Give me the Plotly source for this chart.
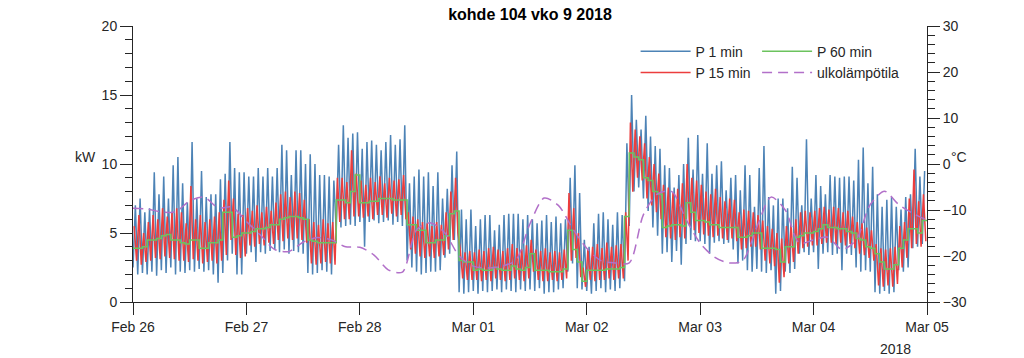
import numpy as np
import pandas as pd
import plotly.graph_objects as go

# ---------------- data ----------------
start = pd.Timestamp("2018-02-26 00:00")
day_ticks = ["2018-02-26", "2018-02-27", "2018-02-28", "2018-03-01",
             "2018-03-02", "2018-03-03", "2018-03-04", "2018-03-05"]
day_labels = ["Feb 26", "Feb 27", "Feb 28", "Mar 01", "Mar 02", "Mar 03", "Mar 04", "Mar 05"]

# hourly mean power (P 60 min), kW, one list per day
p60_days = [
    [3.9,3.9,4.0,4.5,4.5,4.6,4.8,4.9,4.5,4.5,4.3,4.2,4.5,4.5,3.9,3.9,4.3,4.3,4.5,6.5,6.5,4.7,4.8,5.0],
    [5.0,5.1,5.3,5.3,5.4,5.6,5.6,6.0,6.1,6.2,6.2,6.1,6.0,4.5,4.4,4.3,4.3,4.3,4.3,7.4,7.4,7.2,8.0,9.2],
    [7.2,7.2,7.3,7.3,7.5,7.5,7.5,7.4,7.4,7.4,5.6,5.6,5.2,5.2,4.3,4.3,4.5,4.5,4.8,6.4,6.6,3.0,2.9,2.9],
    [2.3,2.4,2.3,2.3,2.5,2.4,2.3,2.3,2.6,2.4,2.3,2.5,3.5,2.3,2.3,2.3,2.2,2.2,2.2,2.4,5.2,3.8,2.9,1.5],
    [2.3,2.3,2.3,2.3,2.4,2.4,2.4,2.5,6.2,10.8,10.5,10.3,9.0,8.8,8.0,7.8,5.4,5.5,5.6,5.6,5.5,7.2,6.5,5.9],
    [5.9,5.8,5.6,5.6,5.4,5.4,5.4,5.4,4.7,4.7,4.8,5.0,5.0,3.9,3.9,3.9,3.8,2.9,4.0,4.0,4.7,4.8,5.0,5.0],
    [5.1,5.3,5.6,5.4,5.4,5.3,5.3,5.1,5.0,4.6,4.5,4.0,3.9,3.5,2.9,2.4,2.4,2.7,3.9,4.5,5.3,5.3,5.0,5.9],
]
# hourly peak of the 1-minute power (P 1 min), kW
p1_max_days = [
    [7.0,7.5,6.5,6.8,9.4,7.8,9.1,7.5,9.9,10.5,8.6,7.2,11.6,7.5,9.5,7.6,7.8,7.8,8.9,9.3,11.6,9.7,9.4,9.4],
    [9.1,9.1,9.7,9.1,9.7,9.1,9.7,11.4,11.0,9.2,11.0,11.0,10.0,10.7,10.0,9.2,9.2,9.1,8.8,11.4,12.8,11.9,12.2,12.3],
    [11.1,11.6,11.7,11.4,11.0,11.6,12.1,11.4,11.8,12.8,8.6,9.1,9.6,9.1,9.4,8.4,9.4,7.5,8.2,9.9,10.9,6.7,6.0,6.7],
    [5.5,6.0,6.3,6.3,5.2,5.6,6.3,6.4,6.4,6.4,6.0,6.3,6.0,5.7,5.9,6.3,5.8,6.2,5.7,6.0,9.0,9.9,7.9,4.5],
    [4.0,5.7,6.4,6.5,6.0,5.6,6.5,6.3,11.5,15.0,13.2,12.5,13.5,12.0,11.3,11.1,9.9,9.7,8.3,9.2,10.0,11.9,9.6,12.1],
    [9.3,11.5,9.3,9.9,10.2,8.1,9.0,9.2,8.1,9.9,9.2,6.9,9.7,11.3,7.6,7.0,7.5,7.5,6.8,9.8,9.0,7.0,11.8,7.5],
    [9.2,8.4,7.8,9.2,9.1,9.0,9.1,9.1,8.8,10.3,11.2,8.6,9.8,7.8,6.9,7.4,7.6,6.9,6.7,7.6,7.8,11.1,9.1,9.5],
]
# hourly low of the 1-minute power (P 1 min), kW
p1_min_days = [
    [2.5,2.0,2.1,2.0,2.2,1.9,2.3,2.1,2.5,2.0,2.2,2.1,2.3,2.2,2.4,2.2,2.3,2.0,1.4,2.1,3.0,3.5,2.0,2.0],
    [3.5,3.6,2.9,3.6,3.5,3.7,3.8,3.6,3.8,3.5,3.7,3.6,3.5,2.1,2.0,2.1,2.3,2.2,2.0,5.2,5.4,5.5,5.6,5.5],
    [5.8,4.0,5.8,5.9,5.7,5.8,5.9,5.6,5.8,5.5,3.0,2.5,2.2,2.0,2.1,2.2,2.2,2.3,3.2,3.5,4.5,0.7,0.6,0.7],
    [0.8,0.6,0.8,0.7,0.8,0.9,0.7,0.9,0.8,0.7,0.9,0.8,0.9,0.8,1.0,0.6,0.7,0.7,0.9,1.0,2.2,2.8,1.0,0.9],
    [0.8,0.6,0.8,1.0,0.7,0.9,0.8,1.0,1.5,5.5,8.0,8.3,7.5,6.6,5.4,4.8,3.5,3.6,2.9,3.7,2.7,4.2,4.5,4.4],
    [4.4,4.2,3.5,4.3,4.4,4.2,4.3,3.8,2.8,3.0,2.3,2.2,2.4,2.2,2.1,2.3,0.6,0.8,2.2,2.1,2.4,3.5,3.6,3.4],
    [3.6,2.4,3.5,3.6,3.4,3.5,2.3,3.5,3.4,2.5,2.2,2.3,2.2,0.7,0.6,0.8,0.6,0.7,2.3,2.2,2.5,3.9,4.0,4.2],
]
# hourly high / low of the 15-minute power (P 15 min), kW
p15_hi_days = [
    [5.5,6.3,5.0,5.8,6.3,6.0,6.8,6.2,6.5,6.8,6.5,5.7,8.4,6.0,6.3,5.8,6.0,6.2,6.5,7.4,8.8,7.5,6.4,6.3],
    [6.8,6.6,7.0,6.5,6.9,6.6,7.2,7.8,8.0,7.6,8.0,7.9,7.4,6.0,5.8,5.6,6.0,5.7,5.8,9.0,9.0,8.7,11.0,9.3],
    [8.8,8.5,9.0,8.7,9.1,8.6,9.0,8.8,8.9,9.2,6.5,6.2,6.0,5.8,5.7,5.5,5.8,5.6,6.5,8.0,9.0,3.8,3.6,3.7],
    [3.6,3.8,3.7,3.9,4.0,3.8,3.7,3.9,4.2,3.9,3.8,4.1,4.5,3.8,3.7,3.9,3.6,3.7,3.6,3.8,7.9,6.8,5.0,2.5],
    [3.8,4.0,4.2,3.9,4.3,4.0,4.1,4.2,6.5,13.0,12.5,12.0,11.5,10.5,10.0,9.3,8.5,8.3,7.9,8.2,8.6,10.0,9.0,8.8],
    [8.5,8.0,7.8,8.2,7.6,7.3,7.5,7.4,6.5,6.7,6.6,6.5,6.3,5.9,5.5,5.3,5.0,4.6,5.5,5.6,6.0,6.5,6.6,6.5],
    [6.6,6.8,6.9,6.7,6.9,6.8,6.5,6.6,6.2,5.8,5.7,5.4,5.2,4.2,3.9,3.8,3.9,4.0,5.5,5.8,7.5,9.6,7.3,7.8],
]
p15_lo_days = [
    [3.0,2.7,2.9,3.0,3.2,3.1,3.3,3.2,3.1,3.0,3.0,2.9,3.1,3.0,2.8,2.9,3.0,2.8,3.0,3.4,4.5,3.4,3.2,3.3],
    [4.1,4.0,4.2,4.1,4.3,4.2,4.5,4.4,4.6,4.5,4.6,4.5,4.3,2.8,2.7,2.8,2.9,2.8,2.7,5.8,6.0,6.0,6.2,6.2],
    [6.1,6.2,6.0,6.3,6.3,6.1,6.4,6.2,6.3,6.0,3.8,3.5,3.3,3.2,3.3,3.2,3.3,3.4,3.8,4.5,5.0,1.7,1.6,1.6],
    [1.6,1.5,1.6,1.5,1.7,1.6,1.5,1.6,1.7,1.6,1.5,1.7,2.2,1.6,1.5,1.5,1.6,1.5,1.6,1.7,3.0,3.2,1.8,1.1],
    [1.6,1.5,1.6,1.6,1.7,1.6,1.7,1.7,3.0,8.0,9.0,8.8,7.5,7.0,6.5,6.0,4.7,4.6,4.5,4.7,4.6,5.5,5.2,5.0],
    [4.9,4.8,4.7,4.8,4.6,4.5,4.6,4.4,3.8,3.9,4.0,4.0,3.8,3.0,2.8,2.6,1.4,1.8,2.8,2.9,3.5,3.9,4.0,4.1],
    [4.1,4.2,4.3,4.3,4.2,4.3,4.1,4.2,3.9,3.5,3.4,3.2,3.0,1.2,1.1,1.2,1.1,1.3,2.5,3.2,3.9,4.2,4.0,4.4],
]
# outdoor temperature (ulkolämpötila), deg C, every 3 hours from Feb 26 00:00 to Mar 05 00:00
temp_3h = [
    -9.6, -9.8, -10.4, -10.4, -8.0, -7.2, -9.5, -9.4,
    -12.5, -15.5, -18.6, -19.0, -17.0, -16.0, -16.5, -18.0,
    -18.1, -19.8, -23.0, -23.5, -14.3, -12.8, -15.0, -20.0,
    -22.2, -22.6, -22.2, -20.9, -13.0, -7.4, -9.0, -14.0,
    -18.3, -21.0, -21.5, -21.5, -11.0, -6.5, -6.0, -12.0,
    -17.2, -20.2, -21.5, -21.0, -13.7, -7.2, -10.0, -17.2,
    -16.5, -15.9, -18.6, -16.5, -8.8, -5.9, -8.8, -10.7,
    -12.2,
]

# ---------------- assemble ----------------
def flat(days):
    return [v for d in days for v in d]

p60 = flat(p60_days)
p1_max = flat(p1_max_days)
p1_min = flat(p1_min_days)
p15_hi = flat(p15_hi_days)
p15_lo = flat(p15_lo_days)
n = len(p60)

hours = start + pd.to_timedelta(np.arange(n), unit="h")
half = pd.Timedelta(minutes=30)
quarter = pd.Timedelta(minutes=15)

x1, y1 = [], []
for t, lo, hi in zip(hours, p1_min, p1_max):
    x1 += [t, t + half]
    y1 += [lo, hi]

x15, y15 = [], []
for t, hi, lo in zip(hours, p15_hi, p15_lo):
    x15 += [t + quarter, t + 3 * quarter]
    y15 += [hi, lo]

x60 = list(hours) + [start + pd.Timedelta(hours=n)]
y60 = p60 + [p60[-1]]

xt = start + pd.to_timedelta(np.arange(len(temp_3h)) * 3, unit="h")

BLUE = "#4d83b6"
RED = "#ec3d3d"
GREEN = "#6cc35e"
PURPLE = "#b270c9"
AX = "#262626"
FONT = "Liberation Sans, Arial, Helvetica, sans-serif"

fig = go.Figure()
fig.add_trace(go.Scatter(x=x1, y=y1, mode="lines", name="P 1 min",
                         line=dict(color=BLUE, width=1.5), legend="legend"))
fig.add_trace(go.Scatter(x=x15, y=y15, mode="lines", name="P 15 min",
                         line=dict(color=RED, width=1.5), legend="legend"))
fig.add_trace(go.Scatter(x=x60, y=y60, mode="lines", name="P 60 min",
                         line=dict(color=GREEN, width=1.5, shape="hv"), legend="legend2"))
fig.add_trace(go.Scatter(x=xt, y=temp_3h, mode="lines", name="ulkolämpötila", yaxis="y2",
                         line=dict(color=PURPLE, width=1.5, dash="10px,6px", shape="spline",
                                   smoothing=0.8), legend="legend2"))

tickfont = dict(family=FONT, size=14, color=AX)
legfont = dict(family=FONT, size=14, color=AX)
fig.update_layout(
    width=1024, height=358,
    margin=dict(l=133, r=97, t=26, b=56),
    paper_bgcolor="white", plot_bgcolor="white",
    font=dict(family=FONT, size=13, color=AX),
    title=dict(text="<b>kohde 104 vko 9 2018</b>", x=0.5, xref="paper", xanchor="center",
               y=1 - 14 / 358, yanchor="middle", font=dict(family=FONT, size=16, color="black")),
    showlegend=True,
    legend=dict(x=0.633, y=0.965, xanchor="left", yanchor="top", bgcolor="rgba(0,0,0,0)",
                font=legfont, tracegroupgap=0, itemwidth=50),
    legend2=dict(x=0.786, y=0.965, xanchor="left", yanchor="top", bgcolor="rgba(0,0,0,0)",
                 font=legfont, tracegroupgap=0, itemwidth=50),
    xaxis=dict(type="date", range=[day_ticks[0], day_ticks[-1]],
               tickvals=day_ticks, ticktext=day_labels, ticks="outside", ticklen=12,
               tickcolor=AX, showline=True, linecolor=AX, linewidth=1, showgrid=False,
               zeroline=False, tickfont=tickfont),
    yaxis=dict(range=[0, 20], tickvals=[0, 5, 10, 15, 20], ticks="outside", ticklen=12,
               tickcolor=AX, showline=True, linecolor=AX, linewidth=1, showgrid=False,
               zeroline=False, tickfont=tickfont,
               minor=dict(dtick=1, ticks="outside", ticklen=7, tickcolor=AX, showgrid=False)),
    yaxis2=dict(range=[-30, 30], tickvals=[-30, -20, -10, 0, 10, 20, 30], overlaying="y",
                side="right", ticks="outside", ticklen=12, tickcolor=AX, showline=True,
                linecolor=AX, linewidth=1, showgrid=False, zeroline=False, tickfont=tickfont,
                minor=dict(dtick=2, ticks="outside", ticklen=7, tickcolor=AX, showgrid=False)),
    annotations=[
        dict(text="kW", x=-0.06, y=0.525, xref="paper", yref="paper", showarrow=False,
             xanchor="center", yanchor="middle", font=dict(family=FONT, size=14, color=AX)),
        dict(text="°C", x=1.04, y=0.525, xref="paper", yref="paper", showarrow=False,
             xanchor="center", yanchor="middle", font=dict(family=FONT, size=14, color=AX)),
        dict(text="2018", x=0.982, y=-0.17, xref="paper", yref="paper", showarrow=False,
             xanchor="right", yanchor="middle", font=dict(family=FONT, size=14, color=AX)),
    ],
)

fig.write_html(
    "out.html",
    config={"displayModeBar": False},
    post_script="document.body.style.margin='0px';document.body.style.overflow='hidden';",
)
